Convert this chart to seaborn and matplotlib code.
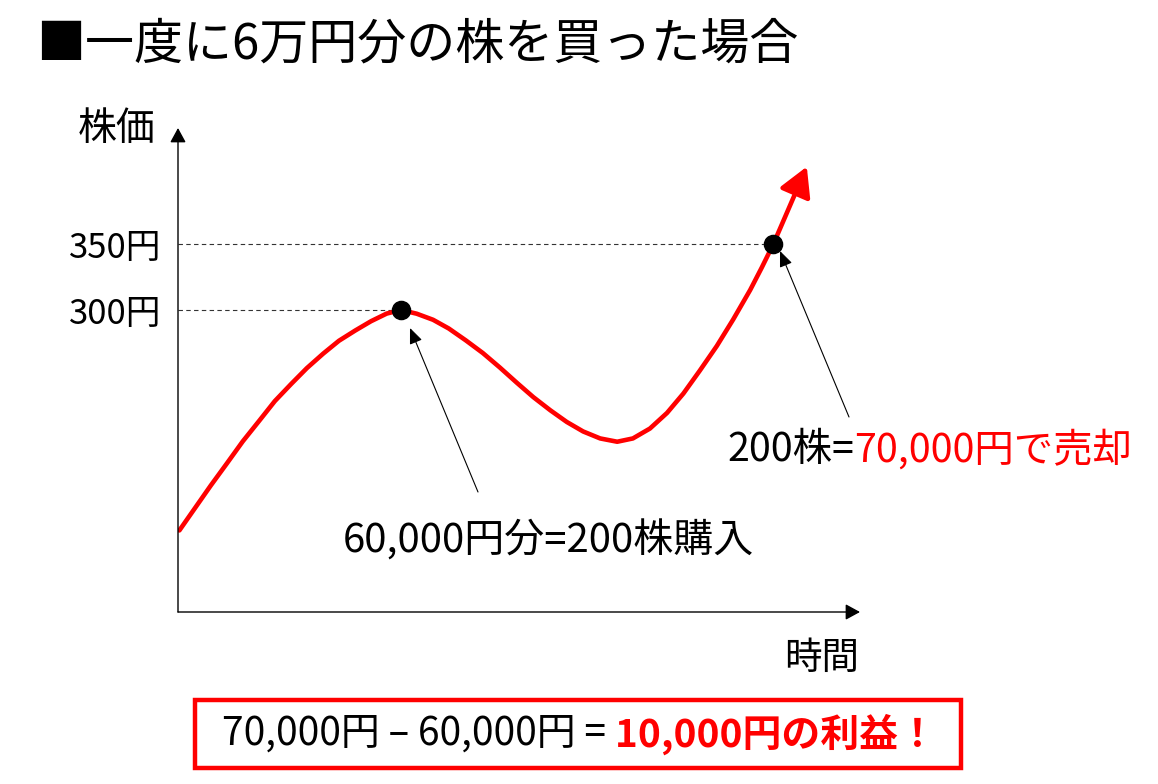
import seaborn as sns
import matplotlib.pyplot as plt
from matplotlib.patches import Rectangle

# curve: time (0-100 across the x axis) and price in yen
time = [0.2, 2.5, 4.8, 7.2, 9.5, 11.9, 14.2, 16.6, 18.9, 21.3, 23.6, 26.0, 28.3, 30.6,
        32.7, 35.0, 37.4, 39.7, 42.2, 44.7, 47.2, 49.7, 52.1, 54.6, 57.0, 59.4, 61.9,
        64.4, 66.7, 69.2, 71.7, 74.1, 76.5, 79.0, 81.4, 83.9, 85.6, 87.3, 92.2]
price = [133, 150, 167, 184, 200.5, 216, 231, 244, 256, 267, 276.7, 284.5, 291.5, 297.3,
         300, 297.2, 292.6, 286, 277, 267.4, 256.4, 244.8, 234, 224, 215.2, 208, 202.7,
         200.2, 202.7, 210.2, 222, 236.7, 254, 272.7, 292.8, 315.2, 332.2, 350, 408.6]

buy_t, buy_p = 32.7, 300
sell_t, sell_p = 87.3, 350
ytick_vals = [300, 350]
ytick_labels = ['300円', '350円']

title = '■一度に6万円分の株を買った場合'
ylabel = '株価'
xlabel = '時間'
buy_text = '60,000円分=200株購入'
sell_parts = [('200株=', 'black', 'normal'), ('70,000円で売却', 'red', 'normal')]
result_parts = [('70,000円 – 60,000円 =', 'black', 'normal'), (' 10,000円の利益！', 'red', 'bold')]

sns.set_theme(style='white')
plt.rcParams['font.family'] = ['Noto Sans CJK JP', 'DejaVu Sans']
plt.rcParams['text.color'] = 'black'
plt.rcParams['ytick.color'] = 'black'

W, H = 1158, 784
fig = plt.figure(figsize=(W / 100, H / 100), dpi=100)


def fx(px):
    return px / W


def fy(py):
    return 1 - py / H


ax = fig.add_axes([fx(178), fy(612), (860 - 178) / W, (612 - 128) / H])
ax.set_xlim(0, 100)
ax.set_ylim(71.2, 437.9)
for s in ax.spines.values():
    s.set_visible(False)
ax.set_xticks([])
ax.set_yticks(ytick_vals)
ax.set_yticklabels(ytick_labels, fontsize=25, color='black')
ax.tick_params(axis='y', length=0, pad=12)
ax.patch.set_alpha(0)

# axes drawn as arrows
axis_arrow = dict(arrowstyle='-|>,head_length=0.55,head_width=0.3', color='black',
                  lw=1.0, mutation_scale=16, shrinkA=0, shrinkB=0)
ax.annotate('', xy=(0, 1), xytext=(0, 0), xycoords='axes fraction', arrowprops=axis_arrow,
            annotation_clip=False)
ax.annotate('', xy=(1, 0), xytext=(0, 0), xycoords='axes fraction', arrowprops=axis_arrow,
            annotation_clip=False)

# dashed guides to the two points
ax.plot([0, buy_t], [buy_p, buy_p], color='#333333', lw=0.8, ls=(0, (4, 3)))
ax.plot([0, sell_t], [sell_p, sell_p], color='#333333', lw=0.8, ls=(0, (4, 3)))

# red price curve with arrow head at the end
sns.lineplot(x=time[:-1], y=price[:-1], ax=ax, color='red', lw=3.3, sort=False,
             solid_joinstyle='round')
ax.annotate('', xy=(time[-1], price[-1]), xytext=(time[-2], price[-2]),
            arrowprops=dict(arrowstyle='-|>,head_length=0.8,head_width=0.45', color='red',
                            lw=3.3, mutation_scale=22, shrinkA=0, shrinkB=0))

sns.scatterplot(x=[buy_t, sell_t], y=[buy_p, sell_p], ax=ax, color='black', s=170,
                edgecolor='black', zorder=5)

# annotation arrows
small_arrow = dict(arrowstyle='-|>,head_length=0.6,head_width=0.25', color='black',
                   lw=0.8, mutation_scale=16, shrinkA=0, shrinkB=0)
ax.annotate('', xy=(fx(410), fy(328)), xytext=(fx(478), fy(492)), xycoords='figure fraction',
            arrowprops=small_arrow)
ax.annotate('', xy=(fx(780), fy(251)), xytext=(fx(849), fy(417)), xycoords='figure fraction',
            arrowprops=small_arrow)

# texts
fig.text(fx(36), fy(45), title, fontsize=35.3, va='center', ha='left', color='black')
fig.text(fx(117), fy(129), ylabel, fontsize=28, va='center', ha='center', color='black')
fig.text(fx(822), fy(658), xlabel, fontsize=27, va='center', ha='center', color='black')
fig.text(fx(548), fy(541), buy_text, fontsize=28.8, va='center', ha='center', color='black')

renderer = fig.canvas.get_renderer()


def chain(x, y, parts, size):
    for s, color, weight in parts:
        t = fig.text(x, y, s, color=color, fontweight=weight, fontsize=size,
                     va='center', ha='left')
        x = t.get_window_extent(renderer).x1 / fig.bbox.width


chain(fx(727), fy(450), sell_parts, 28.4)
chain(fx(222), fy(734), result_parts, 28)

fig.patches.append(Rectangle((fx(195), fy(768)), (961 - 195) / W, (768 - 700) / H,
                             transform=fig.transFigure, fill=False, edgecolor='red', lw=3.2))

fig.savefig('out.png', dpi=100)
